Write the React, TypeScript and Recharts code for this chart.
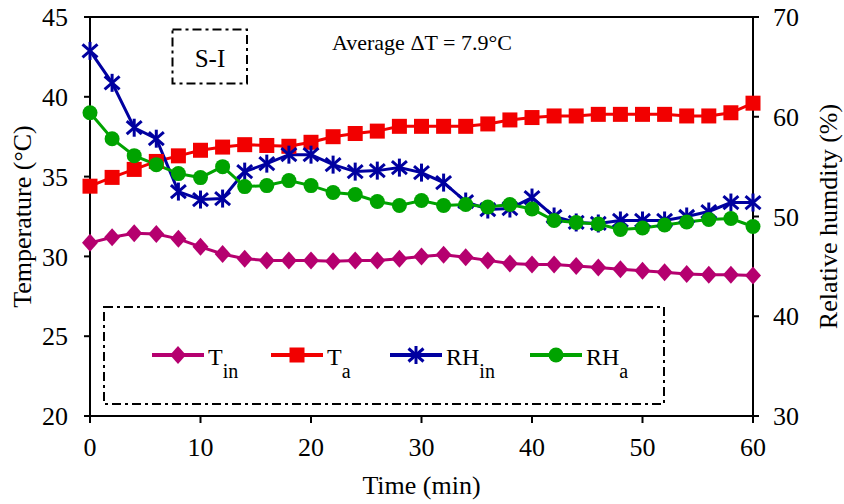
import React from 'react';
import { LineChart, Line, XAxis, YAxis, Legend, ReferenceLine } from 'recharts';

// ---------- data ----------
const time = [0, 2, 4, 6, 8, 10, 12, 14, 16, 18, 20, 22, 24, 26, 28, 30, 32, 34, 36, 38, 40, 42, 44, 46, 48, 50, 52, 54, 56, 58, 60];
const tIn = [30.85, 31.2, 31.45, 31.4, 31.1, 30.6, 30.15, 29.85, 29.75, 29.75, 29.75, 29.7, 29.75, 29.75, 29.85, 30.0, 30.1, 29.95, 29.75, 29.55, 29.5, 29.5, 29.4, 29.3, 29.2, 29.1, 29.0, 28.9, 28.85, 28.85, 28.8];
const tA = [34.4, 34.95, 35.45, 35.95, 36.3, 36.65, 36.85, 37.0, 36.95, 36.9, 37.15, 37.5, 37.7, 37.85, 38.15, 38.15, 38.15, 38.15, 38.3, 38.55, 38.7, 38.8, 38.8, 38.9, 38.9, 38.9, 38.9, 38.8, 38.8, 39.0, 39.6];
const rhIn = [66.6, 63.4, 58.9, 57.8, 52.5, 51.7, 51.8, 54.5, 55.3, 56.2, 56.2, 55.2, 54.5, 54.6, 54.9, 54.4, 53.4, 51.5, 50.7, 50.8, 51.9, 50.0, 49.4, 49.3, 49.6, 49.6, 49.6, 50.0, 50.5, 51.4, 51.4];
const rhA = [60.4, 57.8, 56.1, 55.2, 54.3, 53.9, 55.0, 53.0, 53.1, 53.6, 53.1, 52.4, 52.2, 51.5, 51.1, 51.6, 51.1, 51.2, 50.95, 51.2, 50.75, 49.6, 49.4, 49.25, 48.7, 48.85, 49.15, 49.45, 49.7, 49.8, 49.0];

const xTicks = [0, 10, 20, 30, 40, 50, 60];
const leftTicks = [20, 25, 30, 35, 40, 45];
const rightTicks = [30, 40, 50, 60, 70];

const data = time.map((t, i) => ({ t, tIn: tIn[i], tA: tA[i], rhIn: rhIn[i], rhA: rhA[i] }));

// ---------- styles ----------
const FONT = '"Liberation Serif", "Times New Roman", serif';
const C_TIN = '#B5006F';
const C_TA = '#F20000';
const C_RHIN = '#0000A0';
const C_RHA = '#00A300';
const DASH = '9 4 3 4';

// ---------- markers ----------
const diamond = (cx: number, cy: number, color: string, key?: any) => (
  <path key={key} d={`M${cx},${cy - 9} L${cx + 8},${cy} L${cx},${cy + 9} L${cx - 8},${cy} Z`} fill={color} stroke="none" />
);
const square = (cx: number, cy: number, color: string, key?: any) => (
  <rect key={key} x={cx - 7.5} y={cy - 7.5} width={15} height={15} fill={color} stroke="none" />
);
const star = (cx: number, cy: number, color: string, key?: any) => (
  <g key={key} stroke={color} strokeWidth={3} strokeLinecap="butt">
    <line x1={cx} y1={cy - 9} x2={cx} y2={cy + 9} />
    <line x1={cx - 7.5} y1={cy - 6.5} x2={cx + 7.5} y2={cy + 6.5} />
    <line x1={cx - 7.5} y1={cy + 6.5} x2={cx + 7.5} y2={cy - 6.5} />
  </g>
);
const circle = (cx: number, cy: number, color: string, key?: any) => (
  <circle key={key} cx={cx} cy={cy} r={7.5} fill={color} stroke="none" />
);

const mkDot = (fn: any, color: string) => (p: any) => {
  if (p.cx == null || p.cy == null) return <g key={p.index} />;
  return fn(p.cx, p.cy, color, p.index);
};

const series = [
  { key: 'tIn', axis: 'left', color: C_TIN, marker: diamond, main: 'T', sub: 'in' },
  { key: 'tA', axis: 'left', color: C_TA, marker: square, main: 'T', sub: 'a' },
  { key: 'rhIn', axis: 'right', color: C_RHIN, marker: star, main: 'RH', sub: 'in' },
  { key: 'rhA', axis: 'right', color: C_RHA, marker: circle, main: 'RH', sub: 'a' },
];

const legendItemX = [49, 168, 287, 427];

const LegendBox = () => (
  <svg width={564} height={100} style={{ display: 'block', overflow: 'visible' }}>
    <rect x={1} y={1} width={560} height={97} fill="none" stroke="#000" strokeWidth={2} strokeDasharray={DASH} />
    {series.map((s, i) => {
      const x0 = legendItemX[i];
      const cy = 49;
      return (
        <g key={s.key}>
          <line x1={x0} y1={cy} x2={x0 + 52} y2={cy} stroke={s.color} strokeWidth={4} />
          {s.marker(x0 + 26, cy, s.color)}
          <text x={x0 + 56} y={59} fontFamily={FONT} fontSize={24} fill="#000">
            {s.main}
            <tspan fontSize={20} dy={13}>{s.sub}</tspan>
          </text>
        </g>
      );
    })}
  </svg>
);

const tickStyle = { fontFamily: FONT, fontSize: 26, fill: '#000' };

export default function App() {
  return (
    <div style={{ position: 'absolute', left: 0, top: 0, width: 844, height: 504, background: '#fff' }}>
      <LineChart width={844} height={504} data={data} margin={{ top: 17, right: 0, bottom: 0, left: 0 }}>
        <XAxis
          dataKey="t"
          type="number"
          domain={[0, 60]}
          ticks={xTicks}
          height={88}
          tickSize={7}
          tickMargin={15}
          tick={tickStyle}
          axisLine={{ stroke: '#000', strokeWidth: 2 }}
          tickLine={{ stroke: '#000', strokeWidth: 2 }}
          label={() => (
            <text x={421.5} y={494} textAnchor="middle" fontFamily={FONT} fontSize={26} fill="#000">
              Time (min)
            </text>
          )}
        />
        <YAxis
          yAxisId="left"
          domain={[20, 45]}
          ticks={leftTicks}
          width={90}
          tickSize={6}
          tickMargin={16}
          tick={tickStyle}
          axisLine={{ stroke: '#000', strokeWidth: 2 }}
          tickLine={{ stroke: '#000', strokeWidth: 2 }}
          label={() => (
            <text x={22} y={216.5} transform="rotate(-90 22 216.5)" textAnchor="middle" dominantBaseline="central" fontFamily={FONT} fontSize={26} fill="#000">
              Temperature (°C)
            </text>
          )}
        />
        <YAxis
          yAxisId="right"
          orientation="right"
          domain={[30, 70]}
          ticks={rightTicks}
          width={91}
          tickSize={6}
          tickMargin={14}
          tick={tickStyle}
          axisLine={{ stroke: '#000', strokeWidth: 2 }}
          tickLine={{ stroke: '#000', strokeWidth: 2 }}
          label={() => (
            <text x={828} y={216.5} transform="rotate(-90 828 216.5)" textAnchor="middle" dominantBaseline="central" fontFamily={FONT} fontSize={26} fill="#000">
              Relative humdity (%)
            </text>
          )}
        />
        <ReferenceLine yAxisId="left" y={45} stroke="#000" strokeWidth={2} />
        {series.map((s) => (
          <Line
            key={s.key}
            yAxisId={s.axis}
            dataKey={s.key}
            stroke={s.color}
            strokeWidth={3}
            dot={mkDot(s.marker, s.color)}
            activeDot={false}
            isAnimationActive={false}
          />
        ))}
        <Legend
          layout="vertical"
          align="center"
          verticalAlign="middle"
          content={() => <LegendBox />}
          wrapperStyle={{ left: 103, top: 306, width: 564, height: 100, bottom: 'auto', right: 'auto' }}
        />
      </LineChart>
      <svg width={844} height={504} style={{ position: 'absolute', left: 0, top: 0, pointerEvents: 'none' }}>
        <rect x={172.5} y={29.5} width={74.5} height={54} fill="none" stroke="#000" strokeWidth={2} strokeDasharray={DASH} />
        <text x={210} y={66.5} textAnchor="middle" fontFamily={FONT} fontSize={25} fill="#000">S-I</text>
        <text x={332} y={50} fontFamily={FONT} fontSize={22} fill="#000">Average ΔT = 7.9°C</text>
      </svg>
    </div>
  );
}
